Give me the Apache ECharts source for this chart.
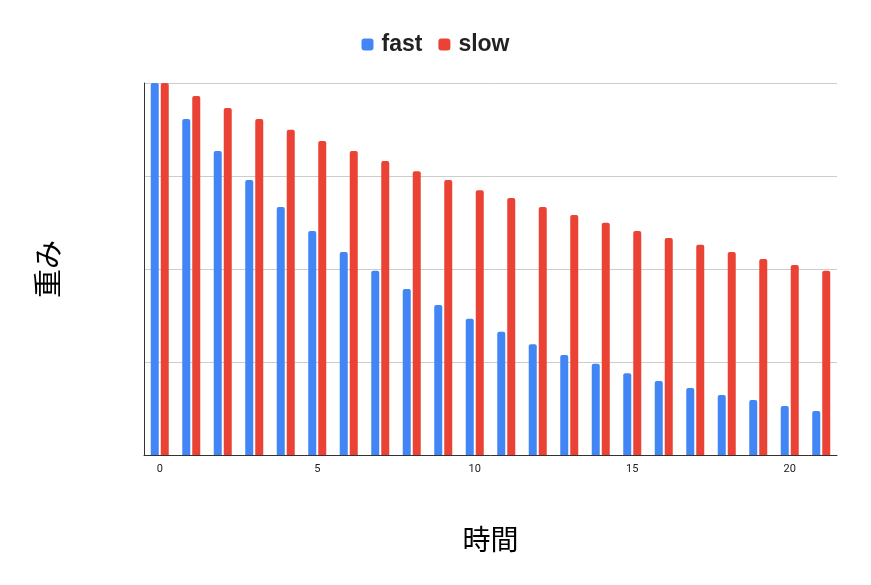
<!DOCTYPE html>
<html>
<head>
<meta charset="utf-8">
<script src="https://cdn.jsdelivr.net/npm/echarts@6/dist/echarts.min.js"></script>
<style>
  html, body { margin: 0; padding: 0; background: #fff; }
  #chart { width: 871px; height: 585px; }
</style>
</head>
<body>
<div id="chart"></div>
<script>
// 時間（カテゴリ）
var hours = [0,1,2,3,4,5,6,7,8,9,10,11,12,13,14,15,16,17,18,19,20,21];
// 重み
var fastValues = [1.0,0.903,0.817,0.739,0.667,0.602,0.546,0.495,0.446,0.403,0.366,0.331,0.298,0.269,0.245,0.220,0.199,0.180,0.161,0.148,0.132,0.118];
var slowValues = [1.0,0.965,0.933,0.903,0.874,0.844,0.817,0.790,0.763,0.739,0.712,0.691,0.667,0.645,0.624,0.602,0.583,0.565,0.546,0.527,0.511,0.495];
var seriesNames = ['fast', 'slow'];

var myChart = echarts.init(document.getElementById('chart'));
var option = {
    animation: false,
    color: ['#4285f4', '#ea4335'],
    legend: {
        top: 28,
        left: 'center',
        icon: 'roundRect',
        itemWidth: 12,
        itemHeight: 12,
        itemGap: 16,
        data: seriesNames,
        textStyle: {
            fontFamily: 'Liberation Sans, Arial, sans-serif',
            fontSize: 23,
            fontWeight: 'bold',
            color: '#222',
            padding: [0, 0, 0, 3]
        }
    },
    grid: {
        left: 144,
        right: 34,
        top: 83,
        bottom: 130
    },
    xAxis: {
        type: 'category',
        data: hours,
        name: '時間',
        nameLocation: 'middle',
        nameGap: 70,
        nameTextStyle: {
            fontFamily: 'Noto Sans CJK JP',
            fontSize: 28,
            color: '#000'
        },
        axisLine: { lineStyle: { color: '#333', width: 1 } },
        axisTick: { show: false },
        axisLabel: {
            interval: 4,
            margin: 9,
            fontFamily: 'Roboto, Arial, sans-serif',
            fontSize: 11,
            color: '#222'
        }
    },
    yAxis: {
        type: 'value',
        min: 0,
        max: 1,
        interval: 0.25,
        name: '重み',
        nameLocation: 'middle',
        nameGap: 82,
        nameRotate: 90,
        nameTextStyle: {
            fontFamily: 'Noto Sans CJK JP',
            fontSize: 29,
            color: '#000'
        },
        axisLine: { show: true, lineStyle: { color: '#333', width: 1 } },
        axisTick: { show: false },
        axisLabel: { show: false },
        splitLine: { lineStyle: { color: '#cccccc', width: 1 } }
    },
    series: [{
        name: seriesNames[0],
        type: 'bar',
        barWidth: 8,
        barGap: '25%',
        itemStyle: { borderRadius: [2, 2, 0, 0] },
        data: fastValues
    }, {
        name: seriesNames[1],
        type: 'bar',
        barWidth: 8,
        barGap: '25%',
        itemStyle: { borderRadius: [2, 2, 0, 0] },
        data: slowValues
    }]
};
myChart.setOption(option);
</script>
</body>
</html>
